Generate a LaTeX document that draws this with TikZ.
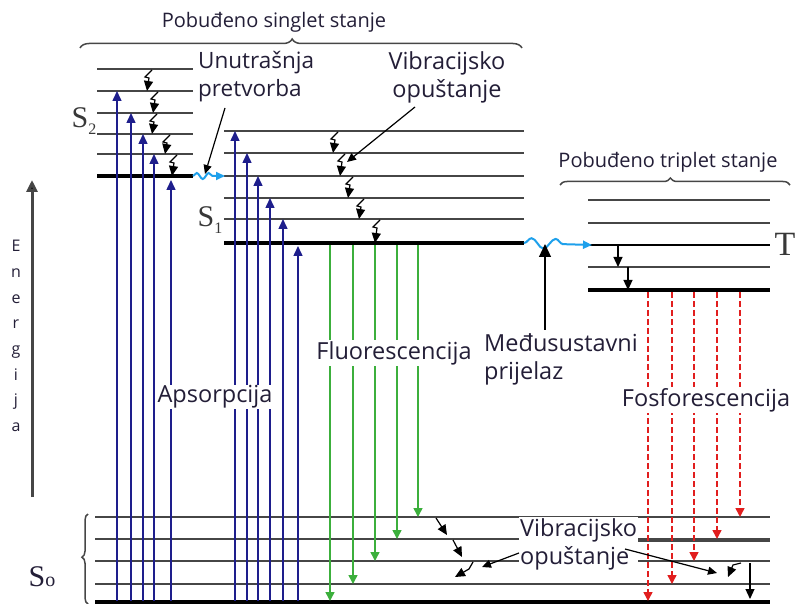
\documentclass[tikz,border=0pt]{standalone}
\usepackage{fontspec}
\setmainfont{Open Sans}
\newfontfamily\lblfont{Liberation Serif}
\usetikzlibrary{arrows.meta,decorations.pathreplacing,decorations.pathmorphing}
\tikzset {>=Stealth}
\definecolor{absorb}{RGB}{30,30,140}
\definecolor{fluor}{RGB}{60,175,60}
\definecolor{phos}{RGB}{225,30,30}
\definecolor{cross}{RGB}{30,160,235}
\definecolor{level}{RGB}{70,70,70}
\definecolor{ink}{RGB}{35,30,55}
\tikzset{
  lvl/.style={level,line width=2pt},
  low/.style={black,line width=4pt},
  abs/.style={absorb,line width=1.5pt,-{Triangle[length=10pt,width=9pt]}},
  flu/.style={fluor,line width=1.5pt,-{Triangle[length=9pt,width=9pt]}},
  pho/.style={phos,line width=1.5pt,dash pattern=on 6pt off 3pt,-{Triangle[length=9pt,width=9pt]}},
  vib/.style={black,line width=1.2pt,-{Triangle[length=10pt,width=9pt]}},
  ptr/.style={black,line width=1.2pt,-{Triangle[length=9pt,width=8pt]}},
  tag/.style={text=ink,font=\fontsize{23.5}{28}\selectfont,fill=white,inner sep=1pt},
  head/.style={text=ink,font=\fontsize{20}{24}\selectfont},
  brc/.style={level,line width=1.5pt,decorate},
  wave/.style={cross,line width=2pt,decorate,-{Triangle[length=9pt,width=8pt]}}
}
\newcommand*{\vibdrop}[3]{\draw[vib] (#1+5,#2+1) -- (#1-2,#2+8) -- (#1+2,#2+9) -- (#1,#3);}

\begin{document}
\begin{tikzpicture}[x=1pt,y=-1pt]
\useasboundingbox (0,0) rectangle (796,604);

% Energy axis
\draw[level,line width=3pt,-{Triangle[length=12pt,width=11pt,fill=black]}] (32,497) -- (32,180);
\node[text=ink,font=\fontsize{16}{25.7}\selectfont,align=center] (en) at (16,336) {E\\n\\e\\r\\g\\i\\j\\a};

% Levels of S2
\draw[lvl] (97,69) -- (193,69) (97,91) -- (193,91) (97,113) -- (193,113)
  (97,134) -- (193,134) (97,154) -- (193,154);
\draw[low] (97,176) -- (193,176);
\node[font=\lblfont\fontsize{30}{30}\selectfont,text=level!80!black] (s2) at (84,121)
  {S\raisebox{-7pt}{\fontsize{16}{16}\selectfont 2}};

% Levels of S1
\draw[lvl] (224,131) -- (524,131) (224,153) -- (524,153) (224,176) -- (524,176)
  (224,198) -- (524,198) (224,219) -- (524,219);
\draw[low] (224,243) -- (524,243);
\node[font=\lblfont\fontsize{30}{30}\selectfont,text=level!80!black] (s1) at (210,220)
  {S\raisebox{-7pt}{\fontsize{16}{16}\selectfont 1}};

% Levels of T
\draw[lvl] (588,200) -- (770,200) (588,223) -- (770,223) (588,267) -- (770,267);
\draw[black,line width=1.5pt] (588,245) -- (770,245);
\draw[low] (588,290) -- (770,290);
\node[font=\lblfont\fontsize{34}{34}\selectfont,text=level!80!black] (t) at (785,244) {T};

% Levels of S0
\draw[lvl] (95,517) -- (770,517) (95,539) -- (770,539) (95,561) -- (770,561)
  (95,584) -- (770,584);
\draw[level,line width=3.5pt] (635,540) -- (770,540);
\draw[low] (95,602) -- (770,602);
\node[font=\lblfont\fontsize{30}{30}\selectfont,text=ink] (s0) at (42,577)
  {S\fontsize{20}{20}\selectfont o};

% Braces
\draw[brc,decoration={brace,amplitude=9pt,aspect=0.48}] (80,48) -- (522,48);
\node[head] (singlet) at (274,22) {Pobuđeno singlet stanje};
\draw[brc,decoration={brace,amplitude=7pt,aspect=0.48}] (560,185) -- (790,185);
\node[head] (triplet) at (668,162) {Pobuđeno triplet stanje};
\draw[brc,decoration={brace,amplitude=6pt,aspect=0.52}] (88,604) -- (88,514);

% Absorption
\draw[abs] (117,601) -- (117,91);
\draw[abs] (131,601) -- (131,113);
\draw[abs] (143,601) -- (143,134);
\draw[abs] (154,601) -- (154,154);
\draw[abs] (171,601) -- (171,180);
\draw[abs] (235,601) -- (235,131);
\draw[abs] (247,601) -- (247,153);
\draw[abs] (258,601) -- (258,176);
\draw[abs] (270,601) -- (270,198);
\draw[abs] (283,601) -- (283,219);
\draw[abs] (298,601) -- (298,246);

% Fluorescence
\draw[flu] (330,245) -- (330,601);
\draw[flu] (353,245) -- (353,584);
\draw[flu] (375,245) -- (375,561);
\draw[flu] (397,245) -- (397,539);
\draw[flu] (418,245) -- (418,517);

% Phosphorescence
\draw[pho] (648,292) -- (648,601);
\draw[pho] (672,292) -- (672,584);
\draw[pho] (694,292) -- (694,561);
\draw[pho] (717,292) -- (717,539);
\draw[pho] (740,292) -- (740,517);

% Vibrational relaxation
\vibdrop{147}{69}{91}
\vibdrop{153}{91}{113}
\vibdrop{152}{113}{134}
\vibdrop{165}{134}{154}
\vibdrop{172}{154}{176}
\vibdrop{333}{131}{153}
\vibdrop{340}{153}{176}
\vibdrop{348}{176}{198}
\vibdrop{359}{198}{219}
\vibdrop{375}{219}{243}
\draw[vib] (618,245) -- (618,267);
\draw[vib] (628,267) -- (628,290);
\draw[vib] (436,518) -- (447,535);
\draw[vib] (453,540) -- (462,557);
\draw[vib] (473,562) -- (469,569) -- (455,577);
\draw[vib] (741,563) -- (733,565) -- (728,577);
\draw[vib] (750,563) -- (750,599);

% Internal conversion and crossing
\draw[wave,decoration={snake,segment length=12pt,amplitude=3pt,post length=10pt}]
  (193,176) -- (225,176);
\draw[wave,decoration={snake,segment length=24pt,amplitude=5pt,post length=20pt}]
  (524,243) -- (592,245);

% Labels
\node[tag,font=\fontsize{22.5}{28}\selectfont,align=left,anchor=west] (ic) at (197,77) {Unutrašnja\\pretvorba};
\node[tag,align=center] (vr) at (447,77) {Vibracijsko\\opuštanje};
\node[tag] (fl) at (394,353) {Fluorescencija};
\node[tag] (ab) at (215,397) {Apsorpcija};
\node[tag,align=left,anchor=west] (isc) at (483,359) {Međusustavni\\prijelaz};
\node[tag] (ph) at (706,400) {Fosforescencija};
\node[tag,align=left,anchor=west] (vr0) at (519,544) {Vibracijsko\\opuštanje};

% Pointers
\coordinate (icFrom) at (225,108);
\coordinate (icTo)   at (205,174);
\coordinate (vrFrom) at (415,107);
\coordinate (vrTo)   at (347,162);
\coordinate (iscFrom) at (545,330);
\coordinate (iscTo)   at (545,244);
\coordinate (vrLeft)  at (482,567);
\coordinate (vrRight) at (717,573);
\draw[ptr] (icFrom) -- (icTo);
\draw[ptr] (vrFrom) -- (vrTo);
\draw[black,line width=1.2pt,-{Triangle[length=13pt,width=12pt]}] (iscFrom) -- (iscTo);
\draw[ptr] (vr0.west |- 0,553) -- (vrLeft);
\draw[ptr] (625,549) -- (vrRight);
\end{tikzpicture}
\end{document}
